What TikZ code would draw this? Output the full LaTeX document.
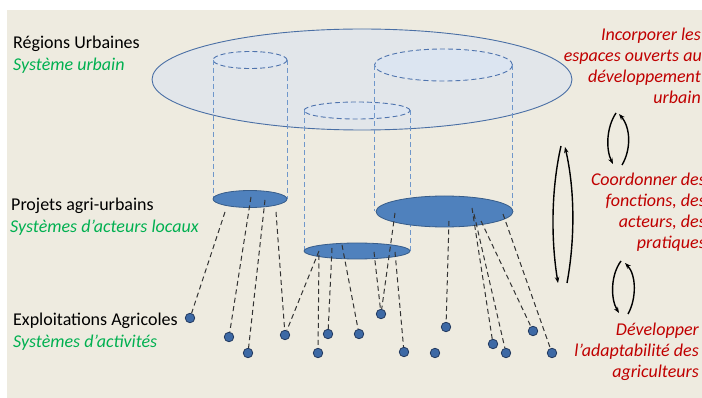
\documentclass[tikz,border=0pt]{standalone}
\usepackage{fontspec}
\setmainfont{Carlito}
\usetikzlibrary{arrows.meta,shapes.geometric}
\definecolor{bg}{HTML}{EEEBE0}
\definecolor{bigfill}{HTML}{E2E6EA}
\definecolor{bigline}{HTML}{4A6FA5}
\definecolor{topfill}{HTML}{DCE5F1}
\definecolor{topline}{HTML}{4F74AE}
\definecolor{cylline}{HTML}{6F97CB}
\definecolor{blfill}{HTML}{4F81BD}
\definecolor{blline}{HTML}{385D8A}
\definecolor{dotfill}{HTML}{3D69A5}
\definecolor{dotline}{HTML}{22395F}
\definecolor{grn}{HTML}{00B050}
\definecolor{rd}{HTML}{C00000}
\definecolor{dash}{HTML}{333333}
\tikzset{
  txt/.style={inner sep=0pt, font=\fontsize{18pt}{21pt}\selectfont},
  lbl/.style={txt, text=black, anchor=base west},
  sub/.style={txt, text=grn, anchor=base west, font=\fontsize{18pt}{21pt}\selectfont\itshape},
  rt/.style={txt, text=rd, anchor=base east, font=\fontsize{18pt}{21pt}\selectfont\itshape},
  botell/.style={ellipse, draw=blline, fill=blfill, line width=0.8pt, inner sep=0pt},
  topell/.style={draw=topline, fill=topfill, dash pattern=on 5pt off 3pt, line width=0.9pt},
  cyl/.style={draw=cylline, dash pattern=on 5pt off 3pt, line width=0.9pt},
  link/.style={draw=dash, dash pattern=on 5pt off 3.5pt, line width=1pt},
  dot/.style={circle, fill=dotfill, draw=dotline, line width=0.8pt, inner sep=0pt, minimum size=9.5pt},
  cyc/.style={draw=black, line width=1.4pt, -{Stealth[length=6pt,width=4.5pt]}}
}
\begin{document}
\begin{tikzpicture}[x=1pt,y=-1pt]
\useasboundingbox (0,0) rectangle (702,398);
\clip (0,0) rectangle (702,398);
\fill[white] (0,0) rectangle (702,398);
\fill[bg] (7,10) rectangle (702,398);

% big ellipse (urban regions)
\draw[fill=bigfill, draw=bigline, line width=0.9pt] (362,79.5) ellipse [x radius=210pt, y radius=50.5pt];

% cylinder tops
\draw[topell] (250,60) ellipse [x radius=37pt, y radius=8.5pt];
\draw[topell] (443.5,65) ellipse [x radius=69pt, y radius=16pt];
\draw[topell] (357,110.5) ellipse [x radius=53pt, y radius=8.5pt];

% cylinder sides
\draw[cyl] (213,60) -- (213,199);
\draw[cyl] (287,60) -- (287,199);
\draw[cyl] (304,110.5) -- (304,251);
\draw[cyl] (410,110.5) -- (410,251);
\draw[cyl] (374.5,65) -- (374.5,211.5);
\draw[cyl] (512.5,65) -- (512.5,211.5);

% agri-urban projects
\node[botell, minimum width=74pt, minimum height=17pt] (p1) at (250,199) {};
\node[botell, minimum width=137pt, minimum height=31pt] (p3) at (444.5,211.5) {};
\node[botell, minimum width=106pt, minimum height=16pt] (p2) at (357,251) {};

% farms
\node[dot] (d1) at (190,318) {};
\node[dot] (d2) at (229,337) {};
\node[dot] (d3) at (248,353) {};
\node[dot] (d4) at (285,335) {};
\node[dot] (d5) at (318,353) {};
\node[dot] (d6) at (328,334) {};
\node[dot] (d7) at (359,334) {};
\node[dot] (d8) at (381,314) {};
\node[dot] (d9) at (404,352) {};
\node[dot] (d10) at (435,353) {};
\node[dot] (d11) at (446,327) {};
\node[dot] (d12) at (493,344) {};
\node[dot] (d13) at (506,353) {};
\node[dot] (d14) at (533,331) {};
\node[dot] (d15) at (552,353) {};

% link start points
\coordinate (s1) at (225,212);
\coordinate (s2) at (251,197);
\coordinate (s3) at (265,200);
\coordinate (s4) at (276,212);
\coordinate (m1) at (319,251);
\coordinate (m2) at (319,255);
\coordinate (m3) at (332,248);
\coordinate (m4) at (342,245);
\coordinate (m5) at (374,252);
\coordinate (m6) at (395,252);
\coordinate (r1) at (395,213);
\coordinate (r2) at (449,221);
\coordinate (r3) at (472,208);
\coordinate (r4) at (474,214);
\coordinate (r5) at (481,221);
\coordinate (r6) at (503,214);

\draw[link] (s1) -- (d1);
\draw[link] (s2) -- (d2);
\draw[link] (s3) -- (d3);
\draw[link] (s4) -- (d4);
\draw[link] (m1) -- (d4);
\draw[link] (m2) -- (d5);
\draw[link] (m3) -- (d6);
\draw[link] (m4) -- (d7);
\draw[link] (m5) -- (d8);
\draw[link] (m6) -- (d9);
\draw[link] (r1) -- (d8);
\draw[link] (r2) -- (d11);
\draw[link] (r3) -- (d12);
\draw[link] (r4) -- (d13);
\draw[link] (r5) -- (d14);
\draw[link] (r6) -- (d15);

% left labels
\node[lbl] (t1) at (13,49) {Régions Urbaines};
\node[sub] (t2) at (13,71) {Système urbain};
\node[lbl] (t3) at (11,211) {Projets agri-urbains};
\node[sub] (t4) at (10,233) {Systèmes d’acteurs locaux};
\node[lbl] (t5) at (13,326) {Exploitations Agricoles};
\node[sub] (t6) at (13,347) {Systèmes d’activités};

% right labels
\node[rt] (a1) at (701,41) {Incorporer les};
\node[rt] (a2) at (702,62) {espaces ouverts au};
\node[rt] (a3) at (701,83) {développement};
\node[rt] (a4) at (701,104) {urbain};
\node[rt] (b1) at (706,186) {Coordonner des};
\node[rt] (b2) at (706,207) {fonctions, des};
\node[rt] (b3) at (706,228) {acteurs, des};
\node[rt] (b4) at (706,249) {pratiques};
\node[rt] (c1) at (699,335) {Développer};
\node[rt] (c2) at (699,356) {l’adaptabilité des};
\node[rt] (c3) at (699,377) {agriculteurs};

% cycle arrows
\coordinate (u1) at (616,113); \coordinate (u2) at (613,164);
\coordinate (u3) at (622,165); \coordinate (u4) at (619,114);
\draw[cyc] (u1) .. controls (606,128) and (606,150) .. (u2);
\draw[cyc] (u3) .. controls (631,150) and (631,128) .. (u4);

\coordinate (v1) at (561,146); \coordinate (v2) at (558,283);
\coordinate (v3) at (567,283); \coordinate (v4) at (565,147);
\draw[cyc] (v1) .. controls (551,190) and (551,240) .. (v2);
\draw[cyc] (v3) .. controls (575,240) and (575,190) .. (v4);

\coordinate (w1) at (621,261); \coordinate (w2) at (619,313);
\coordinate (w3) at (628,314); \coordinate (w4) at (625,263);
\draw[cyc] (w1) .. controls (610.5,275) and (610.5,299) .. (w2);
\draw[cyc] (w3) .. controls (636.5,299) and (636.5,275) .. (w4);
\end{tikzpicture}
\end{document}
